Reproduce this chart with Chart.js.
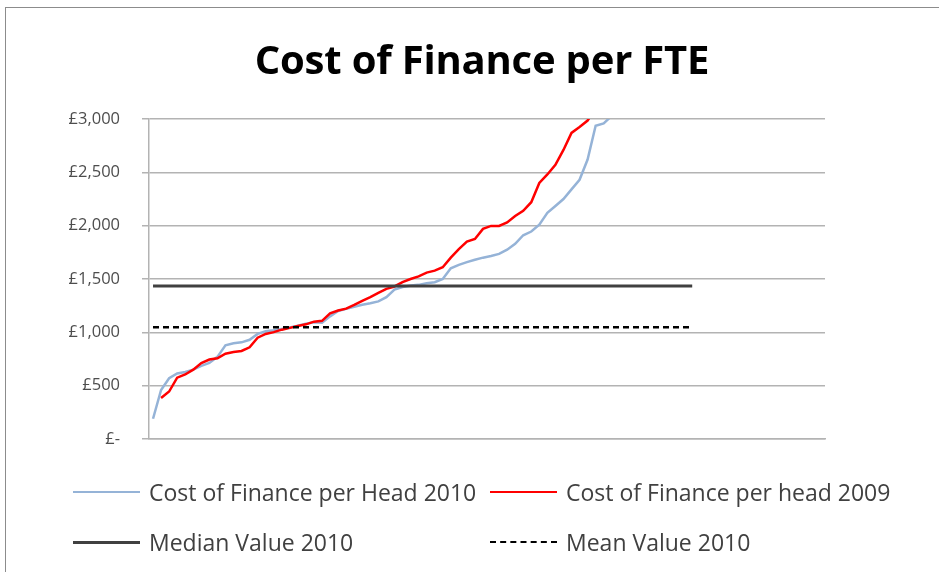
<!DOCTYPE html>
<html lang="en">
<head>
  <meta charset="UTF-8" />
  <title>Cost of Finance per FTE</title>
  <script src="https://cdn.jsdelivr.net/npm/chart.js"></script>
  <style>
    body {
      margin: 0;
      background: #fff;
      overflow: hidden;
      font-family: 'Open Sans', sans-serif;
    }

    .frame {
      position: absolute;
      left: 5px;
      top: 7px;
      width: 952px;
      height: 600px;
      border: 1px solid #8c8c8c;
    }

    .titulo {
      position: absolute;
      left: 0;
      width: 952px;
      top: 23px;
      text-align: center;
      font: bold 40px 'Open Sans', sans-serif;
      color: #000;
      letter-spacing: -0.2px;
    }

    #grafico {
      position: absolute;
      left: 0;
      top: 0;
    }

    .legenda-item {
      position: absolute;
      display: flex;
      align-items: center;
      font-size: 23px;
      color: #404040;
      white-space: nowrap;
    }

    .legenda-item span.amostra {
      display: inline-block;
      width: 67px;
      margin-right: 9px;
    }
  </style>
</head>
<body>
  <div class="frame">
    <canvas id="grafico" width="952" height="600"></canvas>
    <div class="titulo" id="titulo"></div>
    <div id="legenda"></div>
  </div>

  <script>
    const titulo = "Cost of Finance per FTE";
    const rotulosSeries = [
      "Cost of Finance per Head 2010",
      "Cost of Finance per head 2009",
      "Median Value 2010",
      "Mean Value 2010"
    ];
    const yTicks = [0, 500, 1000, 1500, 2000, 2500, 3000];

    // one category per organisation, the axis leaves room for a few empty ones
    const categorias = Array.from({ length: 84 }, (_, i) => i + 1);

    const custo2010 = [
      190, 460, 570, 615, 628, 650, 685, 713, 770, 878,
      898, 906, 930, 985, 1010, 1020, 1032, 1045, 1062, 1080,
      1095, 1090, 1150, 1200, 1220, 1240, 1258, 1273, 1290, 1330,
      1400, 1425, 1438, 1445, 1460, 1470, 1500, 1600, 1632, 1658,
      1680, 1700, 1715, 1735, 1775, 1830, 1910, 1945, 2010, 2120,
      2185, 2250, 2340, 2430, 2620, 2936, 2958, 3030, 3150, 3300,
      3450, 3600, 3800, 4000, 4300, 4700, 5200, 6000
    ];

    const custo2009 = [
      null, 385, 445, 575, 605, 650, 712, 745, 757, 800,
      815, 825, 860, 950, 985, 1002, 1025, 1042, 1060, 1075,
      1100, 1108, 1178, 1205, 1222, 1257, 1295, 1330, 1370, 1408,
      1430, 1470, 1500, 1525, 1560, 1578, 1610, 1700, 1780, 1850,
      1875, 1970, 1998, 1998, 2030, 2090, 2140, 2220, 2400, 2480,
      2570, 2710, 2870, 2925, 2985, 3100, 3300, 3600, 4200
    ];

    const mediana2010 = 1435;
    const media2010 = 1048;
    const linhaMediana = custo2010.map(() => mediana2010);
    const linhaMedia = custo2010.map(() => media2010);

    const cores = ["#95b3d7", "#ff0000", "#404040", "#000000"];

    document.getElementById("titulo").textContent = titulo;

    const grafico = new Chart(document.getElementById("grafico"), {
      type: "line",
      data: {
        labels: categorias,
        datasets: [
          {
            label: rotulosSeries[0],
            data: custo2010,
            borderColor: cores[0],
            borderWidth: 2.5,
            pointRadius: 0,
            order: 4
          },
          {
            label: rotulosSeries[1],
            data: custo2009,
            borderColor: cores[1],
            borderWidth: 2.5,
            pointRadius: 0,
            order: 3
          },
          {
            label: rotulosSeries[2],
            data: linhaMediana,
            borderColor: cores[2],
            borderWidth: 3,
            pointRadius: 0,
            order: 2
          },
          {
            label: rotulosSeries[3],
            data: linhaMedia,
            borderColor: cores[3],
            borderWidth: 2.5,
            borderDash: [6, 4],
            pointRadius: 0,
            order: 1
          }
        ]
      },
      options: {
        responsive: false,
        animation: false,
        layout: {
          padding: { top: 111, right: 133, bottom: 169, left: 0 }
        },
        plugins: {
          legend: { display: false },
          title: { display: false },
          tooltip: { enabled: false }
        },
        scales: {
          x: {
            type: "category",
            offset: true,
            grid: { display: false },
            ticks: { display: false },
            border: { display: true, color: "#b3b3b3", width: 1.5 },
            afterFit: escala => { escala.height = 0; }
          },
          y: {
            min: 0,
            max: 3000,
            afterBuildTicks: escala => {
              escala.ticks = yTicks.map(v => ({ value: v }));
            },
            afterFit: escala => { escala.width = 143; },
            grid: {
              color: "#b3b3b3",
              lineWidth: 1.5,
              drawTicks: true,
              tickLength: 7
            },
            border: { display: true, color: "#b3b3b3", width: 1.5 },
            ticks: {
              padding: 22,
              color: "#4d4d4d",
              font: { family: "'Open Sans', sans-serif", size: 16.5 },
              callback: valor => valor === 0 ? "£-" : "£" + valor.toLocaleString("en-GB")
            }
          }
        }
      }
    });

    // legenda em duas colunas, como no original
    const posLegenda = [
      { x: 67, y: 468 },
      { x: 484, y: 468 },
      { x: 67, y: 518 },
      { x: 484, y: 518 }
    ];
    const legenda = document.getElementById("legenda");
    grafico.data.datasets.forEach((ds, i) => {
      const item = document.createElement("div");
      item.className = "legenda-item";
      item.style.left = posLegenda[i].x + "px";
      item.style.top = posLegenda[i].y + "px";
      const amostra = document.createElement("span");
      amostra.className = "amostra";
      const estilo = ds.borderDash ? "dashed" : "solid";
      amostra.style.borderTop = ds.borderWidth + "px " + estilo + " " + ds.borderColor;
      item.appendChild(amostra);
      item.appendChild(document.createTextNode(ds.label));
      legenda.appendChild(item);
    });
  </script>
</body>
</html>
